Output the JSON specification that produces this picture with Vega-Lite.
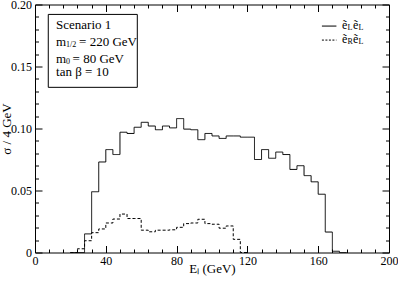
{
 "$schema": "https://vega.github.io/schema/vega-lite/v6.json",
 "width": 354, "height": 248,
 "autosize": {"type": "none"},
 "padding": {"left": 35, "top": 4.5, "right": 9, "bottom": 28.5},
 "background": "white",
 "config": {
  "font": "Liberation Serif",
  "view": {"stroke": null},
  "text": {"font": "Liberation Serif", "color": "black"},
  "axis": {"grid": false, "domainColor": "black", "tickColor": "black", "labelColor": "black", "titleColor": "black",
   "labelFont": "Liberation Serif", "titleFont": "Liberation Serif", "labelFontSize": 12, "titleFontSize": 13,
   "titleFontWeight": "normal", "labelOverlap": false, "labelFlush": false, "labelBound": false, "domainWidth": 1, "tickWidth": 1}
 },
 "data": {"values": [
  {"series": "LL", "E": 20, "v": 0}, {"series": "LL", "E": 24, "v": 0}, {"series": "LL", "E": 28, "v": 0.015},
  {"series": "LL", "E": 32, "v": 0.049}, {"series": "LL", "E": 36, "v": 0.073}, {"series": "LL", "E": 40, "v": 0.083},
  {"series": "LL", "E": 44, "v": 0.079}, {"series": "LL", "E": 48, "v": 0.097}, {"series": "LL", "E": 52, "v": 0.096},
  {"series": "LL", "E": 56, "v": 0.101}, {"series": "LL", "E": 60, "v": 0.105}, {"series": "LL", "E": 64, "v": 0.102},
  {"series": "LL", "E": 68, "v": 0.099}, {"series": "LL", "E": 72, "v": 0.102}, {"series": "LL", "E": 76, "v": 0.1005},
  {"series": "LL", "E": 80, "v": 0.108}, {"series": "LL", "E": 84, "v": 0.0995}, {"series": "LL", "E": 88, "v": 0.099},
  {"series": "LL", "E": 92, "v": 0.091}, {"series": "LL", "E": 96, "v": 0.096}, {"series": "LL", "E": 100, "v": 0.094},
  {"series": "LL", "E": 104, "v": 0.092}, {"series": "LL", "E": 108, "v": 0.094}, {"series": "LL", "E": 112, "v": 0.094},
  {"series": "LL", "E": 116, "v": 0.093}, {"series": "LL", "E": 120, "v": 0.093}, {"series": "LL", "E": 124, "v": 0.075},
  {"series": "LL", "E": 128, "v": 0.083}, {"series": "LL", "E": 132, "v": 0.076}, {"series": "LL", "E": 136, "v": 0.081},
  {"series": "LL", "E": 140, "v": 0.079}, {"series": "LL", "E": 144, "v": 0.067}, {"series": "LL", "E": 148, "v": 0.070},
  {"series": "LL", "E": 152, "v": 0.062}, {"series": "LL", "E": 156, "v": 0.057}, {"series": "LL", "E": 160, "v": 0.047},
  {"series": "LL", "E": 164, "v": 0.0165}, {"series": "LL", "E": 168, "v": 0.001}, {"series": "LL", "E": 172, "v": 0},
  {"series": "LL", "E": 176, "v": 0},
  {"series": "RL", "E": 20, "v": 0}, {"series": "RL", "E": 24, "v": 0.003}, {"series": "RL", "E": 28, "v": 0.0095},
  {"series": "RL", "E": 32, "v": 0.016}, {"series": "RL", "E": 36, "v": 0.019}, {"series": "RL", "E": 40, "v": 0.0238},
  {"series": "RL", "E": 44, "v": 0.027}, {"series": "RL", "E": 48, "v": 0.031}, {"series": "RL", "E": 52, "v": 0.0274},
  {"series": "RL", "E": 56, "v": 0.0274}, {"series": "RL", "E": 60, "v": 0.018}, {"series": "RL", "E": 64, "v": 0.0167},
  {"series": "RL", "E": 68, "v": 0.018}, {"series": "RL", "E": 72, "v": 0.018}, {"series": "RL", "E": 76, "v": 0.0183},
  {"series": "RL", "E": 80, "v": 0.0203}, {"series": "RL", "E": 84, "v": 0.0233}, {"series": "RL", "E": 88, "v": 0.0238},
  {"series": "RL", "E": 92, "v": 0.0268}, {"series": "RL", "E": 96, "v": 0.0233}, {"series": "RL", "E": 100, "v": 0.0228},
  {"series": "RL", "E": 104, "v": 0.0196}, {"series": "RL", "E": 108, "v": 0.0214}, {"series": "RL", "E": 112, "v": 0.0106},
  {"series": "RL", "E": 116, "v": 0}, {"series": "RL", "E": 120, "v": 0}
 ]},
 "layer": [
  {
   "mark": {"type": "line", "interpolate": "step-after", "color": "black", "strokeWidth": 1},
   "encoding": {
    "x": {"field": "E", "type": "quantitative", "scale": {"domain": [0, 200], "nice": false},
     "axis": {"orient": "bottom", "values": [0,8,16,24,32,40,48,56,64,72,80,88,96,104,112,120,128,136,144,152,160,168,176,184,192,200],
      "labelExpr": "datum.value % 40 == 0 ? datum.label : ''",
      "tickSize": {"condition": {"test": "datum.value % 40 == 0", "value": -7}, "value": -3.5},
      "labelPadding": 9.5, "title": "Eₗ  (GeV)", "titleY": 19.5, "titleBaseline": "alphabetic"}},
    "y": {"field": "v", "type": "quantitative", "scale": {"domain": [0, 0.2], "nice": false},
     "axis": {"orient": "left", "values": [0,0.01,0.02,0.03,0.04,0.05,0.06,0.07,0.08,0.09,0.1,0.11,0.12,0.13,0.14,0.15,0.16,0.17,0.18,0.19,0.2],
      "labelExpr": "abs(datum.value*20 - round(datum.value*20)) < 0.001 ? (datum.value == 0 ? '0' : format(datum.value, '.2f')) : ''",
      "tickSize": {"condition": {"test": "abs(datum.value*20 - round(datum.value*20)) < 0.001", "value": -7}, "value": -3.5},
      "labelPadding": 10.5, "title": "σ / 4 GeV", "titleX": -25, "titleBaseline": "alphabetic"}},
    "strokeDash": {"field": "series", "type": "nominal", "scale": {"domain": ["LL", "RL"], "range": [[1, 0], [3, 2]]}, "legend": null}
   }
  },
  {
   "mark": {"type": "line", "opacity": 0},
   "encoding": {
    "x": {"field": "E", "type": "quantitative", "scale": {"domain": [0, 200], "nice": false},
     "axis": {"orient": "top", "values": [0,8,16,24,32,40,48,56,64,72,80,88,96,104,112,120,128,136,144,152,160,168,176,184,192,200],
      "labels": false, "title": null,
      "tickSize": {"condition": {"test": "datum.value % 40 == 0", "value": -7}, "value": -3.5}}},
    "y": {"field": "v", "type": "quantitative", "scale": {"domain": [0, 0.2], "nice": false},
     "axis": {"orient": "right", "values": [0,0.01,0.02,0.03,0.04,0.05,0.06,0.07,0.08,0.09,0.1,0.11,0.12,0.13,0.14,0.15,0.16,0.17,0.18,0.19,0.2],
      "labels": false, "title": null,
      "tickSize": {"condition": {"test": "abs(datum.value*20 - round(datum.value*20)) < 0.001", "value": -7}, "value": -3.5}}},
    "detail": {"field": "series", "type": "nominal"}
   }
  },
  {
   "data": {"values": [{}]},
   "mark": {"type": "rect", "fill": "white", "stroke": "black", "strokeWidth": 1},
   "encoding": {
    "x": {"datum": 7.5, "type": "quantitative", "scale": {"domain": [0, 200], "nice": false}, "axis": null},
    "x2": {"datum": 57.8},
    "y": {"datum": 0.192, "type": "quantitative", "scale": {"domain": [0, 0.2], "nice": false}, "axis": null},
    "y2": {"datum": 0.1332}
   }
  },
  {
   "data": {"values": [{}]},
   "mark": {"type": "text", "text": "Scenario 1", "align": "left", "baseline": "middle", "fontSize": 13},
   "encoding": {
    "x": {"datum": 11.9, "type": "quantitative", "scale": {"domain": [0, 200], "nice": false}, "axis": null},
    "y": {"datum": 0.1834, "type": "quantitative", "scale": {"domain": [0, 0.2], "nice": false}, "axis": null}
   }
  },
  {
   "data": {"values": [{}]},
   "mark": {"type": "text", "text": "m", "align": "left", "baseline": "middle", "fontSize": 13},
   "encoding": {
    "x": {"datum": 11.9, "type": "quantitative", "scale": {"domain": [0, 200], "nice": false}, "axis": null},
    "y": {"datum": 0.1697, "type": "quantitative", "scale": {"domain": [0, 0.2], "nice": false}, "axis": null}
   }
  },
  {
   "data": {"values": [{}]},
   "mark": {"type": "text", "text": "1/2", "align": "left", "baseline": "middle", "fontSize": 8, "dx": 10, "dy": 3},
   "encoding": {
    "x": {"datum": 11.9, "type": "quantitative", "scale": {"domain": [0, 200], "nice": false}, "axis": null},
    "y": {"datum": 0.1697, "type": "quantitative", "scale": {"domain": [0, 0.2], "nice": false}, "axis": null}
   }
  },
  {
   "data": {"values": [{}]},
   "mark": {"type": "text", "text": "= 220 GeV", "align": "left", "baseline": "middle", "fontSize": 13, "dx": 23},
   "encoding": {
    "x": {"datum": 11.9, "type": "quantitative", "scale": {"domain": [0, 200], "nice": false}, "axis": null},
    "y": {"datum": 0.1697, "type": "quantitative", "scale": {"domain": [0, 0.2], "nice": false}, "axis": null}
   }
  },
  {
   "data": {"values": [{}]},
   "mark": {"type": "text", "text": "m", "align": "left", "baseline": "middle", "fontSize": 13},
   "encoding": {
    "x": {"datum": 11.9, "type": "quantitative", "scale": {"domain": [0, 200], "nice": false}, "axis": null},
    "y": {"datum": 0.1563, "type": "quantitative", "scale": {"domain": [0, 0.2], "nice": false}, "axis": null}
   }
  },
  {
   "data": {"values": [{}]},
   "mark": {"type": "text", "text": "0", "align": "left", "baseline": "middle", "fontSize": 8, "dx": 10, "dy": 3},
   "encoding": {
    "x": {"datum": 11.9, "type": "quantitative", "scale": {"domain": [0, 200], "nice": false}, "axis": null},
    "y": {"datum": 0.1563, "type": "quantitative", "scale": {"domain": [0, 0.2], "nice": false}, "axis": null}
   }
  },
  {
   "data": {"values": [{}]},
   "mark": {"type": "text", "text": "= 80 GeV", "align": "left", "baseline": "middle", "fontSize": 13, "dx": 16.5},
   "encoding": {
    "x": {"datum": 11.9, "type": "quantitative", "scale": {"domain": [0, 200], "nice": false}, "axis": null},
    "y": {"datum": 0.1563, "type": "quantitative", "scale": {"domain": [0, 0.2], "nice": false}, "axis": null}
   }
  },
  {
   "data": {"values": [{}]},
   "mark": {"type": "text", "text": "tan β = 10", "align": "left", "baseline": "middle", "fontSize": 13},
   "encoding": {
    "x": {"datum": 11.9, "type": "quantitative", "scale": {"domain": [0, 200], "nice": false}, "axis": null},
    "y": {"datum": 0.1452, "type": "quantitative", "scale": {"domain": [0, 0.2], "nice": false}, "axis": null}
   }
  },
  {
   "data": {"values": [{}]},
   "mark": {"type": "rule", "color": "black", "strokeWidth": 1},
   "encoding": {
    "x": {"datum": 162.1, "type": "quantitative", "scale": {"domain": [0, 200], "nice": false}, "axis": null},
    "x2": {"datum": 170.3},
    "y": {"datum": 0.1826, "type": "quantitative", "scale": {"domain": [0, 0.2], "nice": false}, "axis": null}
   }
  },
  {
   "data": {"values": [{}]},
   "mark": {"type": "rule", "color": "black", "strokeWidth": 1, "strokeDash": [2, 1.5]},
   "encoding": {
    "x": {"datum": 162.1, "type": "quantitative", "scale": {"domain": [0, 200], "nice": false}, "axis": null},
    "x2": {"datum": 170.3},
    "y": {"datum": 0.1713, "type": "quantitative", "scale": {"domain": [0, 0.2], "nice": false}, "axis": null}
   }
  },
  {
   "data": {"values": [{}]},
   "mark": {"type": "text", "text": "ẽ", "align": "left", "baseline": "middle", "fontSize": 12},
   "encoding": {
    "x": {"datum": 173.5, "type": "quantitative", "scale": {"domain": [0, 200], "nice": false}, "axis": null},
    "y": {"datum": 0.1835, "type": "quantitative", "scale": {"domain": [0, 0.2], "nice": false}, "axis": null}
   }
  },
  {
   "data": {"values": [{}]},
   "mark": {"type": "text", "text": "L", "align": "left", "baseline": "middle", "fontSize": 8, "dx": 5.5, "dy": 3.5},
   "encoding": {
    "x": {"datum": 173.5, "type": "quantitative", "scale": {"domain": [0, 200], "nice": false}, "axis": null},
    "y": {"datum": 0.1835, "type": "quantitative", "scale": {"domain": [0, 0.2], "nice": false}, "axis": null}
   }
  },
  {
   "data": {"values": [{}]},
   "mark": {"type": "text", "text": "ẽ", "align": "left", "baseline": "middle", "fontSize": 12, "dx": 11},
   "encoding": {
    "x": {"datum": 173.5, "type": "quantitative", "scale": {"domain": [0, 200], "nice": false}, "axis": null},
    "y": {"datum": 0.1835, "type": "quantitative", "scale": {"domain": [0, 0.2], "nice": false}, "axis": null}
   }
  },
  {
   "data": {"values": [{}]},
   "mark": {"type": "text", "text": "L", "align": "left", "baseline": "middle", "fontSize": 8, "dx": 16.5, "dy": 3.5},
   "encoding": {
    "x": {"datum": 173.5, "type": "quantitative", "scale": {"domain": [0, 200], "nice": false}, "axis": null},
    "y": {"datum": 0.1835, "type": "quantitative", "scale": {"domain": [0, 0.2], "nice": false}, "axis": null}
   }
  },
  {
   "data": {"values": [{}]},
   "mark": {"type": "text", "text": "ẽ", "align": "left", "baseline": "middle", "fontSize": 12},
   "encoding": {
    "x": {"datum": 173.5, "type": "quantitative", "scale": {"domain": [0, 200], "nice": false}, "axis": null},
    "y": {"datum": 0.1722, "type": "quantitative", "scale": {"domain": [0, 0.2], "nice": false}, "axis": null}
   }
  },
  {
   "data": {"values": [{}]},
   "mark": {"type": "text", "text": "R", "align": "left", "baseline": "middle", "fontSize": 8, "dx": 5.5, "dy": 3.5},
   "encoding": {
    "x": {"datum": 173.5, "type": "quantitative", "scale": {"domain": [0, 200], "nice": false}, "axis": null},
    "y": {"datum": 0.1722, "type": "quantitative", "scale": {"domain": [0, 0.2], "nice": false}, "axis": null}
   }
  },
  {
   "data": {"values": [{}]},
   "mark": {"type": "text", "text": "ẽ", "align": "left", "baseline": "middle", "fontSize": 12, "dx": 11},
   "encoding": {
    "x": {"datum": 173.5, "type": "quantitative", "scale": {"domain": [0, 200], "nice": false}, "axis": null},
    "y": {"datum": 0.1722, "type": "quantitative", "scale": {"domain": [0, 0.2], "nice": false}, "axis": null}
   }
  },
  {
   "data": {"values": [{}]},
   "mark": {"type": "text", "text": "L", "align": "left", "baseline": "middle", "fontSize": 8, "dx": 16.5, "dy": 3.5},
   "encoding": {
    "x": {"datum": 173.5, "type": "quantitative", "scale": {"domain": [0, 200], "nice": false}, "axis": null},
    "y": {"datum": 0.1722, "type": "quantitative", "scale": {"domain": [0, 0.2], "nice": false}, "axis": null}
   }
  }
 ],
 "resolve": {"axis": {"x": "independent", "y": "independent"}}
}
